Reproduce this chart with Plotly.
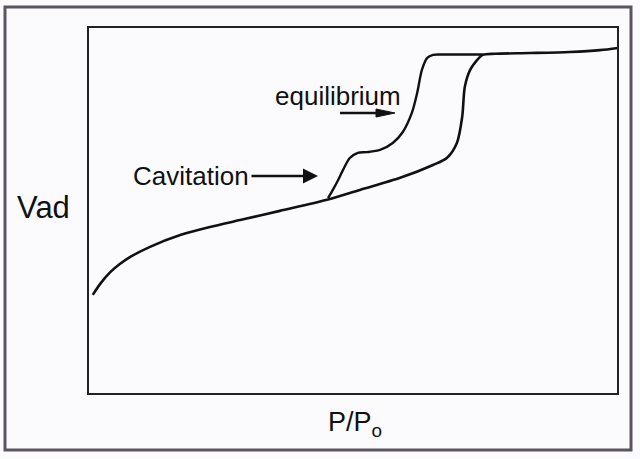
import plotly.graph_objects as go

# Adsorption branch (P/P0, Vad arbitrary units)
ads_x = [0.009, 0.023, 0.042, 0.060, 0.079, 0.117, 0.174, 0.230, 0.287, 0.362, 0.451,
         0.513, 0.589, 0.651, 0.677, 0.696, 0.706, 0.711, 0.721, 0.734, 0.745, 0.768,
         0.834, 0.909, 0.966, 1.0]
ads_y = [27.0, 30.0, 33.2, 35.4, 37.3, 40.1, 43.3, 45.5, 47.4, 49.9, 52.9,
         55.6, 58.9, 62.4, 64.3, 68.4, 75.5, 83.7, 88.3, 91.0, 92.4, 92.7,
         92.9, 93.2, 93.7, 94.3]

# Desorption (equilibrium / cavitation) branch
des_x = [0.453, 0.462, 0.472, 0.481, 0.494, 0.509, 0.526, 0.551, 0.575, 0.594, 0.611,
         0.621, 0.630, 0.640, 0.651, 0.664, 0.745]
des_y = [53.4, 55.6, 58.3, 61.0, 64.3, 65.7, 65.9, 66.5, 68.4, 71.4, 76.6,
         82.0, 88.3, 91.6, 92.4, 92.5, 92.5]

FONT = "Liberation Sans, Arial, sans-serif"

fig = go.Figure()
fig.add_trace(go.Scatter(x=ads_x, y=ads_y, mode="lines",
                         line=dict(color="#111111", width=2.6, shape="spline", smoothing=0.8),
                         hoverinfo="skip", showlegend=False))
fig.add_trace(go.Scatter(x=des_x, y=des_y, mode="lines",
                         line=dict(color="#111111", width=2.4, shape="spline", smoothing=0.8),
                         hoverinfo="skip", showlegend=False))

W, H = 640, 459
L, R, T, B = 88, 618, 27, 394
pw, ph = R - L, B - T

def px(xp):
    return (xp - L) / pw

def py(yp):
    return (B - yp) / ph

def dx(xp):
    return (xp - L) / pw

def dy(yp):
    return (B - yp) / ph * 100

shapes = [
    dict(type="rect", xref="paper", yref="paper", x0=0, x1=1, y0=0, y1=1,
         line=dict(color="#222222", width=2)),
    dict(type="rect", xref="paper", yref="paper", x0=px(5), x1=px(631), y0=py(450), y1=py(7),
         line=dict(color="#5a5560", width=3)),
    # equilibrium arrow: shaft + head
    dict(type="line", xref="x", yref="y", x0=dx(340), x1=dx(382), y0=dy(113), y1=dy(113),
         line=dict(color="#111111", width=2.5)),
    dict(type="path", xref="x", yref="y",
         path=f"M {dx(376)},{dy(109)} L {dx(395)},{dy(113)} L {dx(376)},{dy(117)} Z",
         fillcolor="#111111", line=dict(color="#111111", width=1)),
]

annotations = [
    dict(text="equilibrium", x=dx(338), y=dy(96), xref="x", yref="y", showarrow=False,
         xanchor="center", yanchor="middle",
         font=dict(family=FONT, size=26, color="#111111")),
    dict(text="Cavitation", x=dx(318), y=dy(176), ax=dx(191), ay=dy(176), xref="x", yref="y",
         axref="x", ayref="y", showarrow=True, arrowhead=2, arrowsize=1.2, arrowwidth=2.5,
         arrowcolor="#111111", borderpad=2,
         font=dict(family=FONT, size=26, color="#111111")),
    dict(text="Vad", x=px(43), y=py(208), xref="paper", yref="paper", showarrow=False,
         xanchor="center", yanchor="middle",
         font=dict(family=FONT, size=31, color="#111111")),
    dict(text="P/P<sub>o</sub>", x=px(355), y=py(424), xref="paper", yref="paper", showarrow=False,
         xanchor="center", yanchor="middle",
         font=dict(family=FONT, size=27, color="#111111")),
]

fig.update_layout(
    width=W, height=H,
    margin=dict(l=L, r=W - R, t=T, b=H - B),
    paper_bgcolor="#fbfbfe", plot_bgcolor="#fbfbfe",
    xaxis=dict(range=[0, 1], visible=False, fixedrange=True),
    yaxis=dict(range=[0, 100], visible=False, fixedrange=True),
    shapes=shapes, annotations=annotations,
    showlegend=False,
)

fig.write_html("out.html", config={"displayModeBar": False},
               post_script="document.body.style.margin='0';document.body.style.overflow='hidden';")
